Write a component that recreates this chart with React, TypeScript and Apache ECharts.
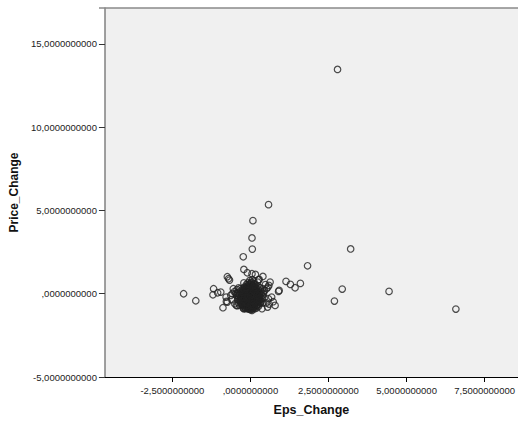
import React, { useEffect, useRef } from "react";
import * as echarts from "echarts";

const xTicks = [-2.5, 0, 2.5, 5, 7.5];
const yTicks = [-5, 0, 5, 10, 15];

// Outlying / scattered points [Eps_Change, Price_Change]
const outerPoints: number[][] = [
  [2.79, 13.47], [0.58, 5.35], [0.08, 4.39], [0.05, 3.35], [0.06, 2.68],
  [-0.23, 2.22], [-0.21, 1.46], [3.21, 2.69], [1.83, 1.68], [1.14, 0.74],
  [1.28, 0.56], [1.43, 0.36], [1.6, 0.62], [0.9, 0.14], [2.94, 0.28],
  [2.69, -0.44], [4.44, 0.14], [6.58, -0.92], [-2.14, 0.0], [-1.75, -0.42],
  [-1.18, 0.3], [-1.2, -0.06], [-1.05, 0.06], [-0.74, 1.02], [-0.67, 0.82],
  [-0.7, 0.9], [-0.88, -0.84], [-0.78, -0.2], [-0.77, -0.46], [-0.74, -0.5],
  [-0.5, -0.6], [-0.45, -0.7], [-0.21, -0.9], [0.0, -0.96], [0.05, -1.0],
  [0.37, -0.9], [0.55, -0.8], [0.79, -0.7], [0.73, -0.48], [0.58, -0.3],
  [0.68, -0.2], [0.59, 0.5], [0.52, 0.3], [0.56, 0.4], [0.42, 0.1],
  [0.4, 1.04], [0.28, 0.86], [0.16, 1.16], [-0.1, 1.26], [0.05, 1.2],
  [0.26, 0.84], [0.63, 0.7], [0.92, 0.2], [-0.58, 0.0], [-0.63, -0.1],
  [-0.95, 0.1], [-0.47, 0.02], [-0.52, 0.12], [-0.16, -0.9], [-0.42, -0.72],
  [0.6, -0.62], [0.5, -0.55], [-0.6, -0.35], [-0.55, 0.3], [0.48, 0.55],
];

// Dense core cluster around the origin
const corePoints: number[][] = [
  [0.02, 0.05], [-0.05, -0.1], [0.1, -0.2], [-0.12, 0.15], [0.15, 0.1],
  [-0.2, -0.3], [0.05, -0.45], [-0.08, -0.6], [0.12, -0.55], [0.2, -0.35],
  [-0.25, 0.0], [0.25, -0.05], [-0.15, -0.45], [0.0, 0.3], [-0.03, 0.5],
  [0.08, 0.45], [-0.1, 0.35], [0.18, 0.3], [-0.3, -0.15], [0.3, -0.2],
  [-0.35, 0.1], [0.33, 0.15], [-0.18, -0.7], [0.1, -0.75], [0.0, -0.85],
  [-0.05, -0.25], [0.07, -0.08], [-0.09, -0.02], [0.13, -0.32], [-0.14, -0.18],
  [0.22, -0.5], [-0.22, -0.55], [0.04, 0.2], [-0.06, 0.1], [0.16, -0.12],
  [-0.28, -0.35], [0.28, -0.4], [0.01, -0.35], [-0.02, -0.55], [0.06, -0.65],
  [-0.11, -0.4], [0.09, 0.0], [-0.17, 0.05], [0.19, 0.05], [-0.24, 0.2],
  [0.24, 0.25], [0.11, 0.6], [-0.13, 0.55], [0.03, 0.7], [-0.38, -0.25],
  [0.38, -0.1], [-0.4, 0.05], [0.42, 0.0], [-0.32, -0.5], [0.35, -0.45],
  [0.15, -0.65], [-0.2, -0.8], [0.05, -0.92], [-0.1, -0.88], [0.2, -0.85],
  [0.0, 0.0], [0.03, -0.15], [-0.04, -0.38], [0.14, -0.02], [-0.16, -0.28],
  [0.26, -0.28], [-0.26, -0.15], [0.08, 0.15], [-0.07, 0.25], [0.12, 0.38],
  [-0.19, 0.4], [0.21, 0.45], [0.31, 0.35], [-0.33, 0.3], [0.0, -0.7],
  [-0.27, -0.65], [0.27, -0.62], [0.36, -0.3], [-0.36, -0.4], [0.44, -0.25],
  [-0.44, -0.1], [0.45, 0.2], [-0.43, 0.25], [0.1, -0.4], [-0.12, -0.62],
  [0.17, -0.48], [-0.08, -0.78], [0.06, 0.85], [-0.02, 0.8], [0.23, 0.7],
  [-0.21, 0.65], [0.01, -0.22], [-0.01, 0.12], [0.04, -0.3], [-0.07, -0.48],
  [0.11, -0.1], [-0.13, -0.08], [0.18, -0.22], [-0.2, 0.12], [0.07, 0.35],
  [-0.04, 0.42], [0.14, 0.22], [-0.09, 0.22], [0.21, -0.7], [-0.15, -0.75],
  [0.32, -0.55], [-0.3, -0.6], [0.02, -0.6], [-0.01, -0.8], [0.09, -0.88],
  [0.03, -0.05], [-0.02, -0.18], [0.06, -0.28], [-0.06, -0.33], [0.08, -0.5],
  [-0.1, -0.52], [0.12, -0.68], [-0.04, -0.68], [0.16, -0.38], [-0.17, -0.38],
  [0.05, 0.08], [-0.08, 0.05], [0.13, 0.02], [-0.14, -0.0], [0.2, -0.15],
  [-0.22, -0.2], [0.17, -0.58], [-0.19, -0.62], [0.24, -0.45], [-0.24, -0.42],
  [0.02, 0.38], [-0.05, 0.3], [0.1, 0.28], [-0.12, 0.45], [0.15, 0.5],
  [0.0, 0.6], [-0.08, 0.65], [0.07, 0.55], [-0.16, 0.28], [0.19, 0.18],
  [-0.28, 0.1], [0.29, 0.05], [-0.31, -0.28], [0.31, -0.35], [-0.34, -0.05],
  [0.34, -0.0], [0.04, -0.78], [-0.06, -0.9], [0.13, -0.82], [-0.12, -0.72],
  [0.26, -0.75], [-0.25, -0.72], [0.39, -0.55], [-0.39, -0.55], [0.4, 0.3],
  [-0.38, 0.35], [0.01, -0.42], [-0.03, -0.03], [0.09, -0.36], [-0.1, -0.15],
  [0.14, -0.45], [-0.15, 0.08], [0.22, 0.1], [-0.23, 0.32], [0.27, 0.4],
  [0.05, -0.18], [-0.07, -0.7], [0.18, -0.75], [-0.01, 0.22], [0.11, 0.75],
  [-0.11, -0.3], [-0.18, -0.12], [-0.23, -0.48], [-0.27, -0.25], [-0.32, -0.38],
  [-0.06, -0.12], [-0.09, -0.42], [-0.14, -0.58], [-0.2, -0.05], [-0.25, 0.08],
  [0.02, -0.48], [0.07, -0.22], [0.11, -0.46], [0.15, -0.28], [0.2, -0.55],
  [-0.03, 0.08], [-0.13, 0.28], [-0.18, 0.18], [0.04, 0.5], [0.09, 0.2],
  [-0.16, -0.82], [-0.04, -0.92], [0.07, -0.8], [0.14, -0.9], [-0.22, -0.88],
  [-0.41, -0.35], [-0.37, -0.15], [-0.29, -0.5], [-0.34, -0.7], [-0.42, 0.0],
  [0.29, -0.12], [0.23, -0.32], [0.18, 0.0], [0.12, 0.12], [0.26, -0.52],
  [-0.08, -0.2], [-0.01, -0.62], [0.04, -0.1], [-0.12, -0.5], [0.08, -0.6],
  [-0.19, -0.22], [-0.24, -0.6], [0.16, 0.4], [-0.06, 0.55], [0.01, 0.65],
  [-0.3, 0.2], [0.21, -0.08], [-0.15, 0.38], [0.1, -0.72], [-0.09, -0.82],
  [-0.02, -0.3], [0.05, -0.38], [-0.17, -0.52], [-0.21, -0.38], [0.0, -0.12],
];

function fmt(v: number): string {
  const a = Math.abs(v);
  let s = a.toFixed(10).replace(".", ",");
  if (a < 1) s = s.slice(1);
  return (v < 0 ? "-" : "") + s;
}

export default function App() {
  const ref = useRef<HTMLDivElement>(null);
  useEffect(() => {
    if (!ref.current) return;
    const chart = echarts.init(ref.current, undefined, { renderer: "svg" });
    const labelFont = {
      fontFamily: "Liberation Sans, Arial, sans-serif",
      fontSize: 9.5,
      color: "#222",
    };
    chart.setOption({
      animation: false,
      backgroundColor: "#ffffff",
      grid: {
        left: 99,
        right: 0,
        top: 8,
        bottom: 43,
        show: true,
        backgroundColor: "#f0f0f0",
        borderWidth: 0,
      },
      graphic: [
        {
          type: "line",
          shape: { x1: 99, y1: 8, x2: 518, y2: 8 },
          style: { stroke: "#8a8a8a", lineWidth: 1.5 },
          z: 10,
        },
      ],
      xAxis: {
        type: "value",
        min: -4.66,
        max: 8.57,
        name: "Eps_Change",
        nameLocation: "middle",
        nameGap: 26,
        nameTextStyle: {
          fontFamily: "Liberation Sans, Arial, sans-serif",
          fontSize: 12.5,
          fontWeight: "bold",
          color: "#111",
        },
        axisLine: { show: true, onZero: false, lineStyle: { color: "#000", width: 1 } },
        axisTick: {
          show: true,
          length: 5,
          customValues: xTicks,
          lineStyle: { color: "#000" },
        },
        axisLabel: {
          ...labelFont,
          margin: 8,
          customValues: xTicks,
          formatter: (v: number) => fmt(v),
        },
        splitLine: { show: false },
      },
      yAxis: {
        type: "value",
        min: -5,
        max: 17.16,
        name: "Price_Change",
        nameLocation: "middle",
        nameGap: 77,
        nameRotate: 90,
        nameTextStyle: {
          fontFamily: "Liberation Sans, Arial, sans-serif",
          fontSize: 12,
          fontWeight: "bold",
          color: "#111",
        },
        axisLine: { show: true, onZero: false, lineStyle: { color: "#808080", width: 1.5 } },
        axisTick: {
          show: true,
          length: 6,
          customValues: yTicks,
          lineStyle: { color: "#333" },
        },
        axisLabel: {
          ...labelFont,
          margin: 8,
          customValues: yTicks,
          formatter: (v: number) => fmt(v),
        },
        splitLine: { show: false },
      },
      series: [
        {
          type: "scatter",
          data: [...outerPoints, ...corePoints],
          symbol: "circle",
          symbolSize: 6.5,
          itemStyle: {
            color: "rgba(0,0,0,0)",
            borderColor: "#222",
            borderWidth: 1.2,
          },
          emphasis: { disabled: true },
        },
      ],
    });
    return () => chart.dispose();
  }, []);
  return (
    <div
      ref={ref}
      style={{ position: "fixed", left: 0, top: 0, width: 518, height: 421 }}
    />
  );
}
